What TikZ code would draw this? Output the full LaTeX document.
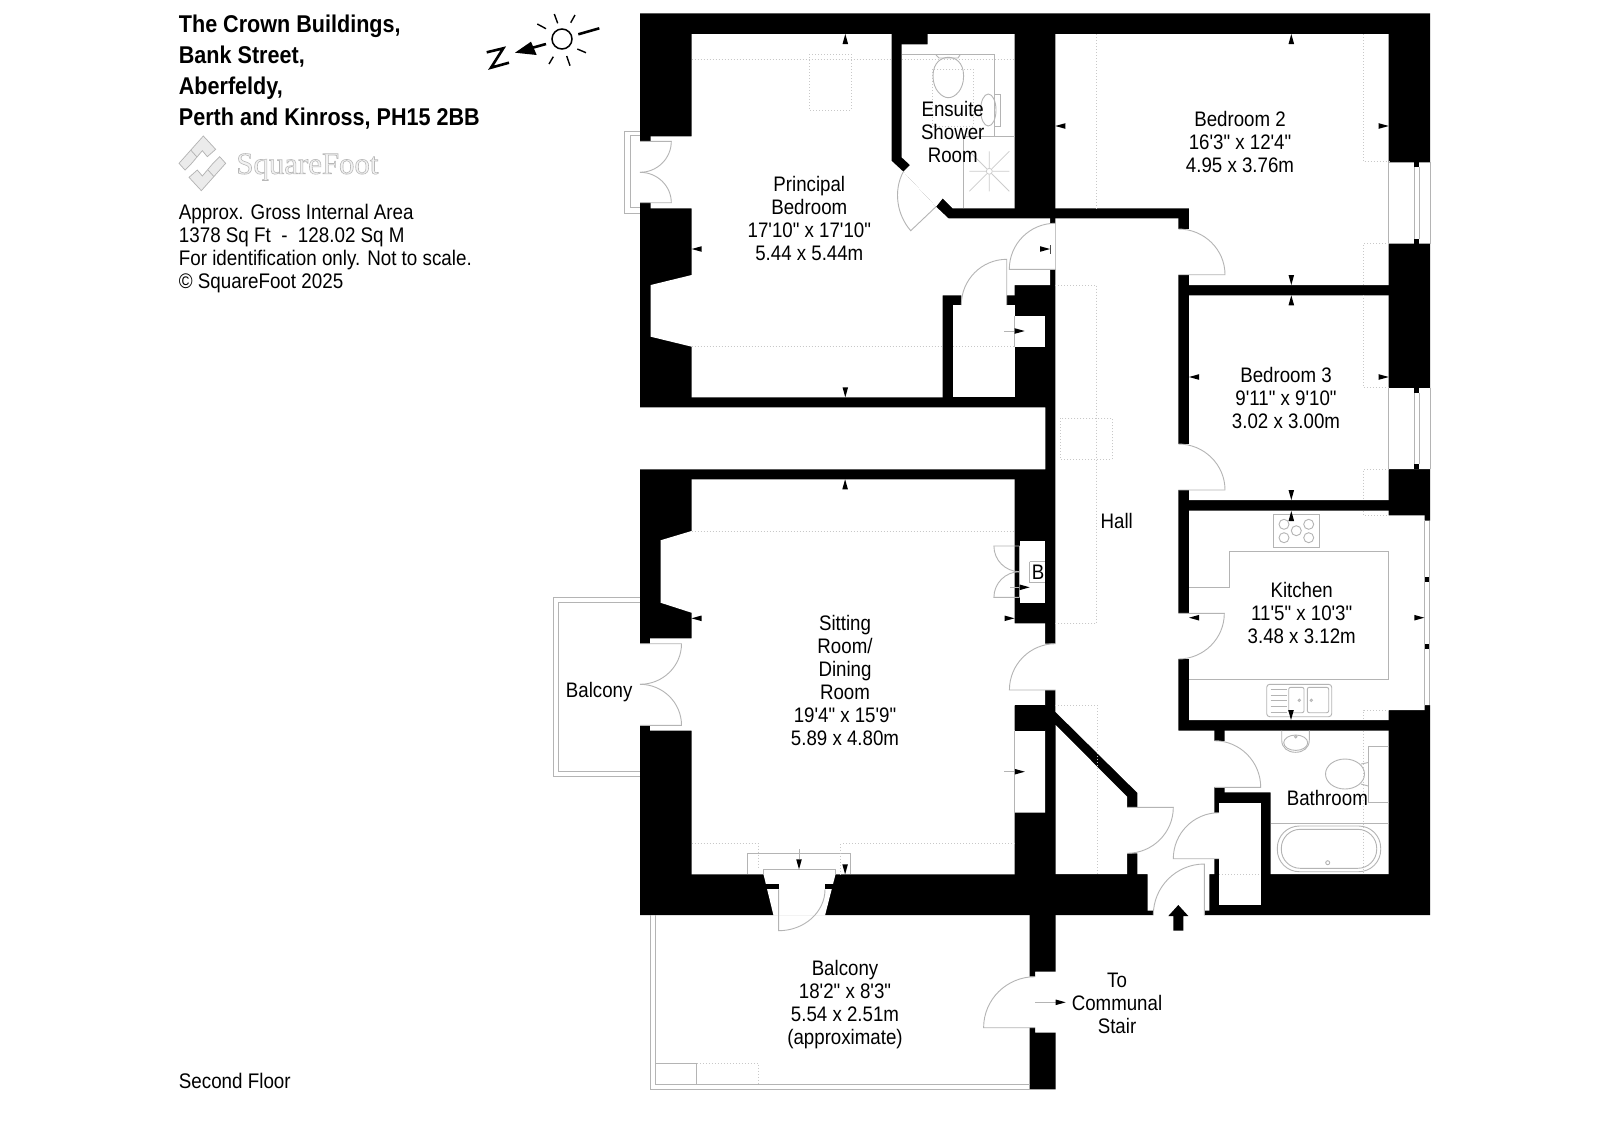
\documentclass[tikz,border=0pt]{standalone}
\usepackage{fontspec}
\usetikzlibrary{calc}
\newfontfamily\lib[FakeStretch=0.89]{Liberation Sans}
\newfontfamily\logofont{Liberation Serif}
\definecolor{ln}{HTML}{B4B4B4}
\definecolor{ltln}{HTML}{CCCCCC}
\definecolor{dl}{HTML}{C8C8C8}
\tikzset{
  wall/.style={fill=black,draw=none},
  room/.style={fill=white,draw=none},
  grayln/.style={draw=ln,line width=0.45pt,fill=none},
  dotln/.style={draw=dl,line width=0.45pt,dash pattern=on 0.5pt off 1pt,fill=none},
  tick/.style={fill=black,draw=none},
  lbl/.style={align=center,inner sep=0pt,font=\lib\fontsize{10.5}{11.5}\selectfont},
  llbl/.style={align=left,inner sep=0pt,anchor=west,font=\lib\fontsize{10.56}{11.6}\selectfont},
  hlbl/.style={inner sep=0pt,anchor=west,font=\lib\bfseries\fontsize{12.12}{15}\selectfont},
  logop/.style={fill=black!8,draw=black!30,line width=0.35pt},
  sun/.style={draw=black,line width=0.7pt,line cap=butt},
  sunb/.style={draw=black,line width=1.3pt}
}
\newcommand{\dr}[6]{\draw[grayln] (#1,#2) -- (#3,#4) .. controls ($(#3,#4)+0.5523*(#5,#6)-0.5523*(#1,#2)$) and ($(#5,#6)+0.5523*(#3,#4)-0.5523*(#1,#2)$) .. (#5,#6);}
\newcommand{\tup}[2]{\fill[tick] (#1,#2) -- ++(-2.8,10) -- ++(5.6,0) -- cycle;}
\newcommand{\tdn}[2]{\fill[tick] (#1,#2) -- ++(-2.8,-10) -- ++(5.6,0) -- cycle;}
\newcommand{\tlf}[2]{\fill[tick] (#1,#2) -- ++(10,-2.8) -- ++(0,5.6) -- cycle;}
\newcommand{\trt}[2]{\fill[tick] (#1,#2) -- ++(-10,-2.8) -- ++(0,5.6) -- cycle;}
\begin{document}
\begin{tikzpicture}[x=0.5pt,y=-0.5pt]
\useasboundingbox (0,0) rectangle (1600,1131);
\fill[white] (0,0) rectangle (1600,1131);
% building mass
\fill[wall] (640,13.3) -- (1430,13.3) -- (1430,915) -- (640,915) -- (640,469.3) -- (1045.3,469.3) -- (1045.3,407.3) -- (640,407.3) -- cycle;
\fill[wall] (1029.7,915) -- (1055.5,915) -- (1055.5,971.7) -- (1035,971.7) -- (1035,976.7) -- (1029.7,976.7) -- cycle;
\fill[wall] (1029.7,1027.7) -- (1035,1027.7) -- (1035,1032.7) -- (1055.5,1032.7) -- (1055.5,1089.3) -- (1029.7,1089.3) -- cycle;
% rooms
\fill[room] (691.7,34) -- (891.7,34) -- (891.7,161) -- (903.3,171.7) -- (936,206.7) -- (948.3,218.3) -- (1050,218.3) -- (1050,223.3) -- (1055.3,223.3) -- (1055.3,269.3) -- (1050,269.3) -- (1050,285) -- (1014.7,285) -- (1014.7,295.3) -- (1006.7,295.3) -- (1006.7,305.3) -- (961.3,305.3) -- (961.3,295.3) -- (942.7,295.3) -- (942.7,397.3) -- (691.7,397.3) -- (691.7,346.7) -- (650.7,336.7) -- (650.7,285) -- (691.7,275) -- (691.7,208.3) -- (650.7,208.3) -- (650.7,202.7) -- (640,202.7) -- (640,141.3) -- (650.7,141.3) -- (650.7,136.3) -- (691.7,136.3) -- cycle;
\fill[room] (927.7,34) -- (1014.7,34) -- (1014.7,208.3) -- (952.7,208.3) -- (942.7,198.3) -- (936,206.7) -- (903.3,171.7) -- (910,165) -- (901.7,157.3) -- (901.7,44.3) -- (927.7,44.3) -- cycle;
\fill[room] (953,305.3) rectangle (1014.7,397.3);
\fill[room] (1014.7,316) rectangle (1045.3,346.7);
% bedroom 2
\fill[room] (1055.3,34) -- (1388.7,34) -- (1388.7,162.3) -- (1430,162.3) -- (1430,243.7) -- (1388.7,243.7) -- (1388.7,285) -- (1189,285) -- (1189,208.3) -- (1055.3,208.3) -- cycle;
\fill[room] (1178.3,229) rectangle (1189,274.7);
% bedroom 3
\fill[room] (1189,295.3) -- (1388.7,295.3) -- (1388.7,388) -- (1430,388) -- (1430,469) -- (1388.7,469) -- (1388.7,500) -- (1189,500) -- cycle;
\fill[room] (1178.3,444) rectangle (1189,490);
% kitchen
\fill[room] (1189,510.7) -- (1388.7,510.7) -- (1388.7,515.3) -- (1424.7,515.3) -- (1424.7,520.7) -- (1431,520.7) -- (1431,705) -- (1424.7,705) -- (1424.7,710) -- (1388.7,710) -- (1388.7,720) -- (1189,720) -- cycle;
\fill[room] (1178.3,613.3) rectangle (1189,659);
% bathroom
\fill[room] (1224.7,730.7) -- (1388.7,730.7) -- (1388.7,874) -- (1270.7,874) -- (1270.7,792.3) -- (1224.7,792.3) -- cycle;
\fill[room] (1214.3,740.7) rectangle (1224.7,787.3);
% cupboard off hall
\fill[room] (1219.3,802.7) rectangle (1260.7,904.7);
\fill[room] (1214.3,812.7) rectangle (1219.3,858.7);
% hall
\fill[room] (1055.3,218.3) -- (1178.3,218.3) -- (1178.3,730.7) -- (1214.3,730.7) -- (1214.3,874) -- (1209.3,874) -- (1209.3,910.7) -- (1204,910.7) -- (1204,916) -- (1153.3,916) -- (1153.3,910.7) -- (1147.7,910.7) -- (1147.7,874) -- (1137.3,874) -- (1137.3,853.3) -- (1127,853.3) -- (1127,807.3) -- (1137.3,807.3) -- (1137.3,792.7) -- (1055.3,711.7) -- (1055.3,690) -- (1045.2,690) -- (1045.2,643.7) -- (1055.3,643.7) -- cycle;
\fill[room] (1055.7,725) -- (1127,796.7) -- (1127,874) -- (1055.7,874) -- cycle;
% sitting room
\fill[room] (691.5,479.3) -- (1014.5,479.3) -- (1014.5,623.3) -- (1045.2,623.3) -- (1045.2,705.3) -- (1014.5,705.3) -- (1014.5,730.7) -- (1045.2,730.7) -- (1045.2,812.7) -- (1014.5,812.7) -- (1014.5,874.3) -- (835.5,874.3) -- (825,915.5) -- (773.5,915.5) -- (763.5,874.3) -- (691.5,874.3) -- (691.5,730.7) -- (650.2,730.7) -- (650.2,725.3) -- (640,725.3) -- (640,643.7) -- (650.2,643.7) -- (650.2,638.3) -- (691.5,638.3) -- (691.5,612.7) -- (660.5,602.7) -- (660.5,540.3) -- (691.5,531) -- cycle;
\fill[wall] (1014.5,479.3) rectangle (1045.3,541);
\fill[wall] (1014.5,479.3) rectangle (1019.7,546);
\fill[wall] (1014.5,597.3) rectangle (1019.7,623.3);
\fill[wall] (1014.5,602.7) rectangle (1045.3,623.3);
\fill[room] (1019.7,541) rectangle (1045.2,602.7);
\fill[wall] (1014.5,705.3) rectangle (1045.3,730.7);
% stubs
\fill[wall] (765,884) rectangle (778.6,889.3);
\fill[wall] (825,884) rectangle (834,889.3);
\fill[wall] (1414.3,162.3) rectangle (1419.3,167.3);
\fill[wall] (1414.3,238.7) rectangle (1419.3,243.7);
\fill[wall] (1414.3,388) rectangle (1419.3,393);
\fill[wall] (1414.3,464) rectangle (1419.3,469);
\fill[wall] (1425,577) rectangle (1429.3,582);
\fill[wall] (1425,644) rectangle (1429.3,648.7);
% window lines
\draw[grayln] (1388.7,162.3) -- (1388.7,243.7) (1414.3,167) -- (1414.3,239) (1419.3,167) -- (1419.3,239) (1430,162.3) -- (1430,243.7);
\draw[grayln] (1388.7,388) -- (1388.7,469) (1414.3,393) -- (1414.3,464) (1419.3,393) -- (1419.3,464) (1430,388) -- (1430,469);
\draw[grayln] (1424.7,520.7) -- (1424.7,705) (1429.5,520.7) -- (1429.5,705);
% west balconies
\draw[grayln] (640,131) -- (624.3,131) -- (624.3,213.3) -- (640,213.3) (640,135.7) -- (630.3,135.7) -- (630.3,207.7) -- (640,207.7);
\draw[grayln] (640,597.3) -- (553.4,597.3) -- (553.4,776.7) -- (640,776.7) (640,602.3) -- (558.3,602.3) -- (558.3,771.7) -- (640,771.7);
% south balcony
\draw[grayln] (650.4,915) -- (650.4,1089.3) -- (1029.7,1089.3) (655.7,915) -- (655.7,1084.3) -- (1029.7,1084.3);
\draw[grayln] (655.7,1063.3) -- (696.8,1063.3) -- (696.8,1084.3);
\draw[dotln] (696.8,1063.3) -- (758.2,1063.3) -- (758.2,1084.3);
% doors
\dr{640}{141.3}{671.3}{141.3}{640}{172.3}
\dr{640}{202.7}{671.3}{202.7}{640}{172.3}
\draw[grayln] (936,206.7) -- (910.7,230.7) .. controls (897,215) and (893,191) .. (903.3,171.7);
\dr{1055}{269.3}{1009.3}{269.3}{1055}{223.3}
\dr{1006.7}{305}{1006.7}{259.3}{961.3}{305}
\dr{1178.3}{274.7}{1225}{274.7}{1178.3}{229}
\dr{1178.3}{490}{1225}{490}{1178.3}{444}
\dr{1178.3}{613.3}{1224.3}{613.3}{1178.3}{659}
\dr{1055.5}{690}{1009.4}{690}{1055.5}{643.7}
\dr{1127}{807.3}{1173.3}{807.3}{1127}{853.3}
\dr{1214.3}{787.3}{1260.7}{787.3}{1214.3}{740.7}
\dr{1219}{858.7}{1173.3}{858.7}{1219}{812.7}
\dr{1204.3}{915}{1204.3}{864}{1153.3}{915}
\dr{640}{643.7}{681.5}{643.7}{640}{684.3}
\dr{640}{725.3}{681.5}{725.3}{640}{684.3}
\dr{1019.7}{546}{993.9}{546}{1019.7}{571.7}
\dr{1019.7}{597.3}{993.9}{597.3}{1019.7}{571.7}
\dr{1035}{1027.7}{983.6}{1027.7}{1035}{976.7}
\dr{778.6}{889.3}{778.6}{930.7}{825}{889.3}
\draw[grayln] (1019.7,546) -- (1019.7,597.3);
\draw[grayln] (1014.5,730.7) -- (1014.5,812.7);
\draw[grayln] (1014.7,316) -- (1014.7,346.7);
% south door threshold
\draw[grayln] (763.5,874.3) -- (763.5,869.3) -- (835.5,869.3) -- (835.5,874.3);
\draw[grayln] (747.6,874.3) -- (747.6,853.7) -- (850.3,853.7) -- (850.3,874.3);
% dotted ceiling lines
\draw[dotln] (691.7,59.7) -- (891.7,59.7) (901.7,59.7) -- (1014.7,59.7);
\draw[dotln] (809.3,54) rectangle (851,110);
\draw[dotln] (691.7,346.3) -- (942.7,346.3) (953,346.3) -- (1014.7,346.3);
\draw[dotln] (932.7,69.3) rectangle (973.3,126);
\draw[dotln] (1096.7,34) -- (1096.7,208.3);
\draw[dotln] (1363.3,34) -- (1363.3,161.7) -- (1388.7,161.7);
\draw[dotln] (1388.7,243.7) -- (1363.3,243.7) -- (1363.3,285);
\draw[dotln] (1363.3,295.3) -- (1363.3,387.7) -- (1388.7,387.7);
\draw[dotln] (1388.7,469) -- (1363.3,469) -- (1363.3,500);
\draw[dotln] (1363.7,510.7) -- (1363.7,515.3) -- (1388.7,515.3);
\draw[dotln] (1388.7,710) -- (1363.7,710) -- (1363.7,720);
\draw[dotln] (1363.7,730.7) -- (1363.7,874);
\draw[dotln] (1055.3,285) -- (1096.7,285) -- (1096.7,623.3) -- (1055.3,623.3);
\draw[dotln] (1055.3,705) -- (1097.3,705) -- (1097.3,874);
\draw[dotln] (1060.3,418.3) rectangle (1112.3,459.3);
\draw[dotln] (1219.3,874) -- (1260.7,874);
\draw[dotln] (691.5,531) -- (1014.5,531);
\draw[dotln] (691.5,843.7) -- (758.7,843.7) -- (758.7,869.3);
\draw[dotln] (1014.5,843.7) -- (840.6,843.7) -- (840.6,874.3);
% ensuite fittings
\draw[grayln] (901.7,54) -- (994,54) -- (994,94) (994,126) -- (994,136);
\draw[grayln] (994,94) rectangle (1000.7,126);
\draw[grayln] (988.3,110) ellipse (7.7 and 16);
\draw[grayln] (933,76) .. controls (933,62) and (942,57.3) .. (948.3,57.3) .. controls (955,57.3) and (963.6,62) .. (963.6,76) .. controls (963.6,90) and (955,97.7) .. (948.3,97.7) .. controls (942,97.7) and (933,90) .. (933,76) -- cycle;
\draw[grayln] (936,55) -- (939,58) -- (958,58) -- (960,55);
\draw[grayln] (963.3,208.3) -- (963.3,136) -- (1014.7,136);
\draw[draw=ltln,line width=0.4pt] (989.3,171.3) circle (3);
\draw[draw=ltln,line width=0.4pt] (969.3,171.3) -- (985.8,171.3) (992.8,171.3) -- (1009.3,171.3) (989.3,151.3) -- (989.3,167.8) (989.3,174.8) -- (989.3,191.3) (969.3,191.3) -- (986.8,173.8) (991.8,168.8) -- (1009.3,151.3) (969.3,151.3) -- (986.8,168.8) (991.8,173.8) -- (1009.3,191.3);
% kitchen fittings
\draw[grayln] (1273.3,514.3) rectangle (1319.7,547.3);
\foreach \cx/\cy in {1284/524.3,1308.7/524.3,1284/537.7,1308.7/537.7,1296.3/530.7} \draw[grayln] (\cx,\cy) circle (5);
\draw[grayln] (1189,587.7) -- (1229.7,587.7) -- (1229.7,551.3) -- (1388.7,551.3) -- (1388.7,679.3) -- (1189,679.3);
\draw[grayln,rounded corners=1.5pt] (1266.7,684.3) rectangle (1331.7,716.7);
\draw[grayln,rounded corners=1pt] (1288.7,687.3) rectangle (1304,712.7);
\draw[grayln,rounded corners=1pt] (1307.3,687.3) rectangle (1328.7,712.7);
\draw[grayln] (1299.3,700.3) circle (1.2) (1311.3,700.3) circle (1.2);
\foreach \ly in {689,695,700,706,712} \draw[grayln] (1270.7,\ly) -- (1286.7,\ly);
% bathroom fittings
\draw[grayln] (1281.7,730.7) -- (1281.7,740) .. controls (1281.7,748) and (1288,752.3) .. (1295.5,752.3) .. controls (1303,752.3) and (1309.3,748) .. (1309.3,740) -- (1309.3,730.7);
\draw[grayln] (1295.7,742.7) ellipse (12 and 7.7);
\draw[grayln] (1295.7,736.7) circle (1.2);
\draw[grayln] (1368.3,802.3) -- (1368.3,746) -- (1388.7,746) (1368.3,802.3) -- (1388.7,802.3);
\draw[grayln] (1345,774) ellipse (19.5 and 15);
\draw[grayln] (1361,764) -- (1368.3,762.5) (1361,784) -- (1368.3,786);
\draw[grayln] (1270.7,823.3) -- (1388.7,823.3);
\draw[grayln,rounded corners=11pt] (1277.3,826) rectangle (1380.7,871.7);
\draw[grayln,rounded corners=9.5pt] (1281.3,829.3) rectangle (1376.7,868.3);
\draw[grayln] (1327.7,862.7) circle (2);
\draw[grayln] (1029.7,561.7) -- (1045,561.7) (1029.7,561.7) -- (1029.7,582) -- (1045,582);
% dimension ticks
\tup{845.3}{34} \tlf{691.7}{249} \tdn{845.3}{397.3} \tlf{1055.3}{126}
\trt{1050}{249} \draw[draw=black!70,line width=0.3pt] (1050.7,245) -- (1050.7,254);
\draw[grayln] (1004.3,331) -- (1014.7,331); \trt{1024.7}{331}
\tup{1291.3}{34} \trt{1388.7}{126} \tdn{1291.3}{285} \tup{1291.3}{295.3}
\tlf{1189}{377} \trt{1388.7}{377} \tdn{1291.3}{500} \tup{1291.3}{511}
\tup{845.1}{479.3} \tlf{691.5}{618.3} \trt{1014.5}{618.3}
\draw[grayln] (1010,587.3) -- (1019.7,587.3); \trt{1029.7}{587.3}
\draw[grayln] (1004.2,771.7) -- (1014.5,771.7); \trt{1024.8}{771.7}
\draw[grayln] (799,849) -- (799,859.3); \tdn{799}{869.3}
\tdn{845.1}{874.3}
\tlf{1189}{617.7} \trt{1424.3}{617.7} \tdn{1291}{720}
\draw[grayln] (1035,1002.3) -- (1055.7,1002.3); \trt{1065.7}{1002.3}
% entrance arrow
\fill[tick] (1178.3,905) -- (1188.3,916) -- (1183.3,916) -- (1183.3,930.7) -- (1173.3,930.7) -- (1173.3,916) -- (1168.3,916) -- cycle;
% north / sun symbol
\draw[sun,line width=0.75pt] (562,39) circle (10);
\draw[sunb] (578.3,34.3) -- (599.3,28.3);
\draw[sun] (554.3,14) -- (557.7,23.3) (575,15) -- (570.7,22.7) (537.3,24) -- (546,28.7) (577.3,49) -- (586,52.7) (566.7,56) -- (570,65.7) (553.3,56.7) -- (549,64);
\draw[sunb] (546,44) -- (528,49);
\fill[tick] (515,52.7) -- (531,41.7) -- (536.7,55) -- cycle;
\draw[sunb] (486.7,52.3) -- (503.3,48.3) -- (491,67.7) -- (509,62.7);
% logo
\begin{scope}[shift={(170,130)},scale=0.3333]
\draw[logop] (27,100) -- (100,18) -- (137,58) -- (112,80) -- (97,62) -- (65,100) -- (45,120) -- cycle;
\draw[logop] (167,100) -- (94,182) -- (57,142) -- (82,120) -- (97,138) -- (129,100) -- (149,80) -- cycle;
\draw[logop] (62,60) -- (80,80);
\draw[logop] (132,140) -- (114,120);
\end{scope}
\node[inner sep=0pt,anchor=west,text=black!5,font=\logofont\fontsize{15.4}{15.4}\selectfont] (logotext) at (236,167) {\special{pdf:code 2 Tr 0.3 w 0.72 0.72 0.72 RG}SquareFoot\special{pdf:code 0 Tr}};
% heading
\node[hlbl] (h1) at (178.5,26) {The Crown Buildings,};
\node[hlbl] (h2) at (178.5,57) {Bank Street,};
\node[hlbl] (h3) at (178.5,88) {Aberfeldy,};
\node[hlbl] (h4) at (178.5,118.5) {Perth and Kinross, PH15 2BB};
\node[llbl] (info) at (178.5,248.5) {Approx. Gross Internal Area\\1378 Sq Ft\ \ -\ \ 128.02 Sq M\\For identification only. Not to scale.\\\textcopyright\ SquareFoot 2025};
\node[llbl] (floor) at (178.5,1081) {Second Floor};
% room labels
\node[lbl] (principal) at (809.3,218.5) {Principal\\Bedroom\\17'10" x 17'10"\\5.44 x 5.44m};
\node[lbl] (ensuite) at (952.7,132) {Ensuite\\Shower\\Room};
\node[lbl] (bed2) at (1240,142) {Bedroom 2\\16'3" x 12'4"\\4.95 x 3.76m};
\node[lbl] (bed3) at (1286,398) {Bedroom 3\\9'11" x 9'10"\\3.02 x 3.00m};
\node[lbl] (hall) at (1116.7,521) {Hall};
\node[lbl] (kitchen) at (1301.7,613) {Kitchen\\11'5" x 10'3"\\3.48 x 3.12m};
\node[lbl] (bath) at (1327.3,798) {Bathroom};
\node[lbl] (sitting) at (845,680) {Sitting\\Room/\\Dining\\Room\\19'4" x 15'9"\\5.89 x 4.80m};
\node[lbl] (balw) at (599.2,692) {Balcony};
\node[lbl] (bals) at (845,1004.5) {Balcony\\18'2" x 8'3"\\5.54 x 2.51m\\(approximate)};
\node[lbl] (stair) at (1117,1003) {To\\Communal\\Stair};
\node[lbl] (blabel) at (1038,572.7) {B};
\end{tikzpicture}
\end{document}
